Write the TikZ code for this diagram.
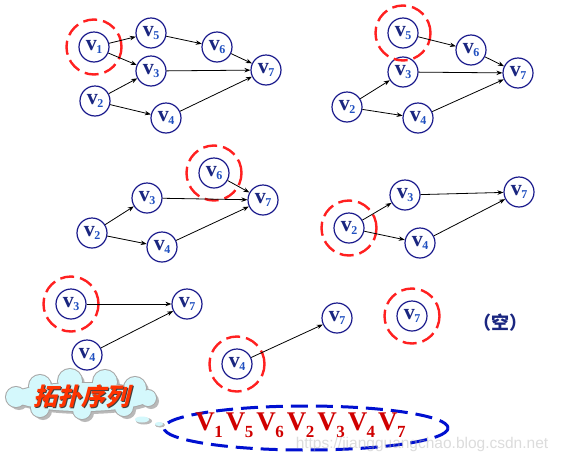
\documentclass[tikz,border=0pt]{standalone}
\usepackage{fontspec}
\setmainfont{Liberation Serif}
\newfontfamily\cjk[FakeSlant=0.25]{Noto Sans CJK SC}
\newfontfamily\cjkup{Noto Sans CJK SC}
\newfontfamily\wmfont{Liberation Sans}
\usetikzlibrary{arrows.meta}
\definecolor{ncol}{HTML}{1A1A8C}
\definecolor{vcol}{HTML}{1A2680}
\definecolor{scol}{HTML}{2050C0}
\definecolor{ringred}{HTML}{FF2020}
\definecolor{ellblue}{HTML}{0010D0}
\definecolor{seqred}{HTML}{D00000}
\definecolor{cloudfill}{HTML}{D4F8FC}
\definecolor{cloudline}{HTML}{A8A8A8}
\definecolor{cloudtext}{HTML}{FF3300}
\newcommand\vlab[1]{{\color{vcol}\fontsize{22}{22}\selectfont\bfseries v}\kern-0.5pt\raisebox{-3.5pt}{\color{scol}\fontsize{12}{12}\selectfont\bfseries #1}}
\newcommand\sqv[1]{V\kern-0.5pt\raisebox{-6.5pt}{\fontsize{17}{17}\selectfont #1}\kern3pt}
\tikzset{
  vnode/.style={circle, draw=ncol, line width=1.2pt, minimum size=30pt, inner sep=0pt},
  ring/.style={circle, draw=ringred, line width=2.4pt, minimum size=55pt, inner sep=0pt, dash pattern=on 14pt off 6pt},
  arr/.style={-{Stealth[length=6pt,width=4.5pt]}, line width=0.8pt, black},
  lobe/.style={draw=cloudline, line width=2pt},
}
\begin{document}
\begin{tikzpicture}[x=1pt,y=-1pt]
\useasboundingbox (0,0) rectangle (562,461);
\fill[white] (0,0) rectangle (562,461);

% ---------- Panel 1 ----------
\node[ring] (a1r) at (94,47) {};
\node[vnode] (a1) at (94,47) {\vlab{1}};
\node[vnode] (a5) at (151,33) {\vlab{5}};
\node[vnode] (a3) at (151,71) {\vlab{3}};
\node[vnode] (a2) at (95,101) {\vlab{2}};
\node[vnode] (a4) at (166,118) {\vlab{4}};
\node[vnode] (a6) at (217,47) {\vlab{6}};
\node[vnode] (a7) at (266,70) {\vlab{7}};
\draw[arr] (a1) -- (a5);
\draw[arr] (a1) -- (a3);
\draw[arr] (a2) -- (a3);
\draw[arr] (a2) -- (a4);
\draw[arr] (a5) -- (a6);
\draw[arr] (a6) -- (a7);
\draw[arr] (a3) -- (a7);
\draw[arr] (a4) -- (a7);

% ---------- Panel 2 ----------
\node[vnode] (b3) at (403,72) {\vlab{3}};
\node[ring] (b5r) at (403,33) {};
\node[vnode] (b5) at (403,33) {\vlab{5}};
\node[vnode] (b6) at (471,50) {\vlab{6}};
\node[vnode] (b7) at (518,73) {\vlab{7}};
\node[vnode] (b2) at (347,107) {\vlab{2}};
\node[vnode] (b4) at (418,118) {\vlab{4}};
\draw[arr] (b5) -- (b6);
\draw[arr] (b2) -- (b3);
\draw[arr] (b2) -- (b4);
\draw[arr] (b6) -- (b7);
\draw[arr] (b3) -- (b7);
\draw[arr] (b4) -- (b7);

% ---------- Panel 3 ----------
\node[ring] (c6r) at (214,173) {};
\node[vnode] (c6) at (214,173) {\vlab{6}};
\node[vnode] (c3) at (147,198) {\vlab{3}};
\node[vnode] (c7) at (263,200) {\vlab{7}};
\node[vnode] (c2) at (92,233) {\vlab{2}};
\node[vnode] (c4) at (162,247) {\vlab{4}};
\draw[arr] (c2) -- (c3);
\draw[arr] (c2) -- (c4);
\draw[arr] (c6) -- (c7);
\draw[arr] (c3) -- (c7);
\draw[arr] (c4) -- (c7);

% ---------- Panel 4 ----------
\node[ring] (d2r) at (349,228) {};
\node[vnode] (d2) at (349,228) {\vlab{2}};
\node[vnode] (d3) at (405,195) {\vlab{3}};
\node[vnode] (d7) at (519,192) {\vlab{7}};
\node[vnode] (d4) at (420,243) {\vlab{4}};
\draw[arr] (d2) -- (d3);
\draw[arr] (d2) -- (d4);
\draw[arr] (d3) -- (d7);
\draw[arr] (d4) -- (d7);

% ---------- Panel 5 ----------
\node[ring] (e3r) at (71,304) {};
\node[vnode] (e3) at (71,304) {\vlab{3}};
\node[vnode] (e7) at (187,304) {\vlab{7}};
\node[vnode] (e4) at (87,355) {\vlab{4}};
\draw[arr] (e3) -- (e7);
\draw[arr] (e4) -- (e7);

% ---------- Panel 6 ----------
\node[ring] (f4r) at (237,364) {};
\node[vnode] (f4) at (237,364) {\vlab{4}};
\node[vnode] (f7) at (337,318) {\vlab{7}};
\draw[arr] (f4) -- (f7);

% ---------- Panel 7 ----------
\node[ring] (g7r) at (412,316) {};
\node[vnode] (g7) at (412,316) {\vlab{7}};
\node (empty) at (500,323) {\cjkup\bfseries\color{vcol}\fontsize{18}{18}\selectfont （空）};

% ---------- Cloud ----------
\begin{scope}[shift={(3,3)}]
  \fill[cloudline!80] (82,397) ellipse [x radius=70, y radius=14];
  \foreach \x/\y/\r in {40/386/11,70/381/12,105/382/12,135/388/11,16/397/10,40/408/9,82/410/9,124/407/9,148/398/8}
    \fill[cloudline!80] (\x,\y) circle (\r);
\end{scope}
\foreach \x/\y/\r in {40/386/11,70/381/12,105/382/12,135/388/11,16/397/10,40/408/9,82/410/9,124/407/9,148/398/8}
  \draw[lobe] (\x,\y) circle (\r);
\draw[lobe] (82,397) ellipse [x radius=70, y radius=14];
\foreach \x/\y/\r in {40/386/11,70/381/12,105/382/12,135/388/11,16/397/10,40/408/9,82/410/9,124/407/9,148/398/8}
  \fill[cloudfill] (\x,\y) circle (\r);
\fill[cloudfill] (82,397) ellipse [x radius=70, y radius=14];
\fill[cloudline!80] (144,421) ellipse [x radius=8, y radius=3.5];
\fill[cloudfill] (142,419.5) ellipse [x radius=7, y radius=3];
\fill[cloudline!80] (160,425) ellipse [x radius=5, y radius=2.5];
\fill[cloudfill] (159,424) ellipse [x radius=4, y radius=2];
\node (cloudsh) at (82.5,397.5) {\cjk\bfseries\color{black!75}\fontsize{24}{24}\selectfont 拓扑序列};
\node (cloud) at (81,396) {\cjk\bfseries\color{cloudtext}\fontsize{24}{24}\selectfont 拓扑序列};

% ---------- Sequence ----------
\draw[ellblue, line width=3pt, dash pattern=on 17pt off 8pt] (306,428) ellipse [x radius=142, y radius=22];
\node (seq) at (302,425) {\color{seqred}\bfseries\fontsize{27}{27}\selectfont \sqv{1}\sqv{5}\sqv{6}\sqv{2}\sqv{3}\sqv{4}\sqv{7}};
\node[opacity=0.45] (wm) at (422,444) {\wmfont\color{black!30}\fontsize{15.5}{15.5}\selectfont https://jiangguangchao.blog.csdn.net};
\end{tikzpicture}
\end{document}
